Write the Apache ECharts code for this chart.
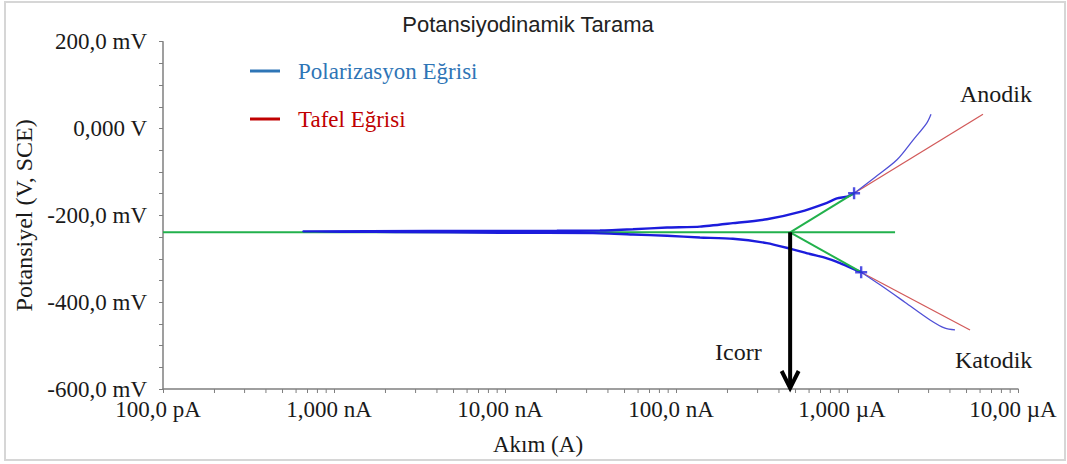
<!DOCTYPE html>
<html><head><meta charset="utf-8">
<script src="https://cdn.jsdelivr.net/npm/echarts@6/dist/echarts.min.js"></script>
<style>html,body{margin:0;padding:0;background:#fff}#c{width:1067px;height:464px}</style>
</head><body><div id="c"></div>
<script>
// ---- tick labels ----
const xTickValues = [1e-10, 1e-9, 1e-8, 1e-7, 1e-6, 1e-5];
const xTickLabels = ['100,0 pA', '1,000 nA', '10,00 nA', '100,0 nA', '1,000 µA', '10,00 µA'];
const yTickValues = [-600, -400, -200, 0, 200];
const yTickLabels = ['-600,0 mV', '-400,0 mV', '-200,0 mV', '0,000 V', '200,0 mV'];

// ---- data: [current (A), potential (mV)] ----
const polFitRegion = [
  [1.21e-6, -331], [1.0e-6, -317], [8.74e-7, -307], [7.64e-7, -299], [6.08e-7, -289],
  [4.58e-7, -276], [3.40e-7, -264], [2.15e-7, -254], [1.38e-7, -251], [8.86e-8, -247],
  [5.60e-8, -244], [3.27e-8, -241], [9.35e-9, -240], [2.43e-9, -238.5], [6.59e-10, -237],
  [3.64e-9, -236], [2.01e-8, -235.5], [3.59e-8, -235], [5.60e-8, -232], [8.86e-8, -228],
  [1.38e-7, -226], [2.15e-7, -218], [3.40e-7, -209], [5.31e-7, -192], [7.64e-7, -171],
  [8.74e-7, -161], [1.0e-6, -157], [1.10e-6, -149]
];
const polAnodicOuter = [[1.10e-6, -149], [1.46e-6, -112], [1.96e-6, -72], [2.44e-6, -26], [2.92e-6, 12], [3.10e-6, 33]];
const polCathodicOuter = [[1.21e-6, -331], [1.56e-6, -360], [2.18e-6, -400], [3.06e-6, -441], [3.74e-6, -460], [4.28e-6, -464]];
const tafelAnodic = [[1.10e-6, -149], [6.24e-6, 33]];
const tafelCathodic = [[1.21e-6, -331], [5.24e-6, -464]];
const icorr = 4.65e-7;
const ecorr = -239;
const ecorrLine = [[1e-10, -239], [1.91e-6, -239]];
const fitAnodic = [[icorr, ecorr], [1.10e-6, -149]];
const fitCathodic = [[icorr, ecorr], [1.21e-6, -331]];
const fitPoints = [[1.10e-6, -149], [1.21e-6, -331]];
const xMinorTickValues = [];
for (let d = -10; d < -5; d++) for (let k = 2; k <= 9; k++) xMinorTickValues.push(k * Math.pow(10, d));

const FONT = 'Liberation Serif';
const AX = '#7f7f7f';

function xLabel(v) {
  const i = xTickValues.findIndex(t => Math.abs(Math.log10(t) - Math.log10(v)) < 1e-6);
  return i >= 0 ? xTickLabels[i] : '';
}
function yLabel(v) {
  const i = yTickValues.indexOf(Math.round(v));
  return i >= 0 ? yTickLabels[i] : '';
}

const chart = echarts.init(document.getElementById('c'), null, {renderer: 'svg'});
chart.setOption({
  animation: false,
  backgroundColor: '#fff',
  title: {
    text: 'Potansiyodinamik Tarama', left: 523, textAlign: 'center', top: 8,
    textStyle: {fontFamily: 'Liberation Sans', fontSize: 22, fontWeight: 'normal', color: '#222'}
  },
  legend: {
    orient: 'vertical', left: 245, top: 54, itemWidth: 30, itemHeight: 3, itemGap: 24,
    icon: 'rect', selectedMode: false,
    textStyle: {fontFamily: FONT, fontSize: 23, lineHeight: 24, padding: [0, 0, 0, 13]},
    data: [
      {name: 'Polarizasyon Eğrisi', itemStyle: {color: '#2e75b6'}, textStyle: {color: '#2e75b6'}},
      {name: 'Tafel Eğrisi', itemStyle: {color: '#c00000'}, textStyle: {color: '#c00000'}}
    ]
  },
  grid: {left: 163, right: 49, top: 41.7, bottom: 75, containLabel: false},
  xAxis: {
    type: 'log', logBase: 10, min: 1e-10, max: 1e-5, splitNumber: 5,
    name: 'Akım (A)', nameLocation: 'middle', nameGap: 44,
    nameTextStyle: {fontFamily: FONT, fontSize: 23, color: '#1a1a1a', padding: [0, 105, 0, 0]},
    axisLine: {show: true, onZero: false, lineStyle: {color: AX, width: 1.5}},
    axisTick: {show: true, length: 4, lineStyle: {color: AX}},
    splitLine: {show: false},
    axisLabel: {formatter: xLabel, fontFamily: FONT, fontSize: 23, color: '#1a1a1a', margin: 9, padding: [0, 10, 0, 0]}
  },
  yAxis: {
    type: 'value', min: -600, max: 200, interval: 200,
    name: 'Potansiyel (V, SCE)', nameLocation: 'middle', nameGap: 126,
    nameTextStyle: {fontFamily: FONT, fontSize: 24, color: '#1a1a1a'},
    axisLine: {show: true, onZero: false, lineStyle: {color: AX, width: 1.5}},
    axisTick: {show: true, length: 4, lineStyle: {color: AX}},
    minorTick: {show: true, splitNumber: 4, length: 4, lineStyle: {color: AX}},
    splitLine: {show: false},
    axisLabel: {formatter: yLabel, fontFamily: FONT, fontSize: 23, color: '#1a1a1a', margin: 16}
  },
  graphic: [
    {type: 'rect', shape: {x: 5, y: 2, width: 1060, height: 458}, style: {fill: 'none', stroke: '#d6d6d6', lineWidth: 2}, z: -10},
    {type: 'text', x: 960, y: 94, style: {text: 'Anodik', font: '24px "Liberation Serif"', fill: '#1a1a1a', verticalAlign: 'middle'}},
    {type: 'text', x: 955, y: 360, style: {text: 'Katodik', font: '24px "Liberation Serif"', fill: '#1a1a1a', verticalAlign: 'middle'}},
    {type: 'text', x: 715, y: 352, style: {text: 'Icorr', font: '24px "Liberation Serif"', fill: '#1a1a1a', verticalAlign: 'middle'}}
  ],
  series: [
    {name: 'Tafel Fit', type: 'line', data: ecorrLine, showSymbol: false, lineStyle: {color: '#22b14c', width: 2}, z: 2},
    {name: 'Polarizasyon Eğrisi', type: 'line', data: polFitRegion, showSymbol: false, smooth: 0.2,
      lineStyle: {color: '#1c1cdc', width: 2.4}, z: 3},
    {name: 'Polarizasyon Eğrisi', type: 'line', data: polAnodicOuter, showSymbol: false, smooth: 0.3,
      lineStyle: {color: '#5050d6', width: 1.3}, z: 3},
    {name: 'Polarizasyon Eğrisi', type: 'line', data: polCathodicOuter, showSymbol: false, smooth: 0.3,
      lineStyle: {color: '#5050d6', width: 1.3}, z: 3},
    {name: 'Tafel Eğrisi', type: 'line', data: tafelAnodic, showSymbol: false, lineStyle: {color: '#d25a5a', width: 1.3}, z: 2},
    {name: 'Tafel Eğrisi', type: 'line', data: tafelCathodic, showSymbol: false, lineStyle: {color: '#d25a5a', width: 1.3}, z: 2},
    {name: 'Tafel Fit', type: 'line', data: fitAnodic, showSymbol: false, lineStyle: {color: '#22b14c', width: 2}, z: 4},
    {name: 'Tafel Fit', type: 'line', data: fitCathodic, showSymbol: false, lineStyle: {color: '#22b14c', width: 2}, z: 4},
    {name: 'Fit Noktaları', type: 'scatter', data: fitPoints, symbol: 'path://M4,0H6V4H10V6H6V10H4V6H0V4H4Z',
      symbolSize: 12, itemStyle: {color: '#2424dc'}, z: 6},
    {name: 'Icorr', type: 'custom', data: [[icorr, ecorr]], z: 7, clip: false,
      renderItem: function (params, api) {
        const p0 = api.coord([api.value(0), api.value(1)]);
        const p1 = api.coord([api.value(0), -600]);
        const x = p0[0], yb = p1[1] - 1;
        return {type: 'group', children: [
          {type: 'line', shape: {x1: x, y1: p0[1], x2: x, y2: yb}, style: {stroke: '#000', lineWidth: 4}},
          {type: 'polyline', shape: {points: [[x - 8.5, yb - 17], [x, yb], [x + 8.5, yb - 17]]},
            style: {stroke: '#000', lineWidth: 4, fill: 'none', lineJoin: 'miter'}}
        ]};
      }},
    {name: 'xMinor', type: 'custom', data: xMinorTickValues.map(v => [v, -600]), z: 1, clip: false, silent: true,
      renderItem: function (params, api) {
        const p = api.coord([api.value(0), -600]);
        return {type: 'line', shape: {x1: p[0], y1: p[1], x2: p[0], y2: p[1] + 4}, style: {stroke: AX, lineWidth: 1}};
      }}
  ]
});
</script>
</body></html>
